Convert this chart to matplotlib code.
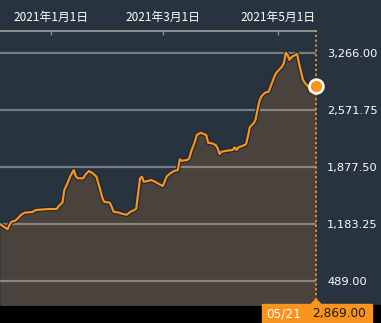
#!/usr/bin/env python3

import numpy as np
import matplotlib
matplotlib.use("Agg")
import matplotlib.pyplot as plt
import matplotlib.patheffects as pe
from matplotlib.patches import Rectangle, Polygon

# days counted from 2021-01-01, price values
days = [-27, -25, -23, -22, -21, -19, -17, -16, -14, -10, -8, -1, 3, 4, 6, 7, 9, 10,
        12, 13, 14, 17, 18, 20, 22, 24, 26, 27, 28, 31, 32, 33, 36, 38, 40, 42, 44, 45,
        47, 48, 49, 51, 53, 55, 57, 59, 60, 61, 63, 65, 67, 68, 69, 72, 73, 74, 76, 77,
        79, 81, 82, 83, 85, 87, 88, 89, 90, 93, 96, 97, 98, 99, 101, 103, 104, 105, 107,
        108, 110, 111, 113, 115, 116, 118, 119, 122, 123, 124, 125, 126, 127, 129, 130,
        131, 133, 134, 136, 137, 139, 140]
prices = [1183, 1150, 1119, 1171, 1211, 1223, 1265, 1293, 1321, 1329, 1354, 1366, 1366,
          1402, 1443, 1597, 1698, 1759, 1841, 1768, 1740, 1740, 1780, 1829, 1801, 1759,
          1597, 1508, 1455, 1443, 1394, 1333, 1321, 1305, 1297, 1333, 1354, 1370, 1740,
          1759, 1698, 1707, 1719, 1698, 1670, 1646, 1698, 1759, 1801, 1829, 1841, 1971,
          1954, 1963, 1983, 2064, 2186, 2267, 2295, 2276, 2267, 2173, 2166, 2145, 2105,
          2036, 2064, 2076, 2085, 2117, 2085, 2117, 2133, 2154, 2247, 2361, 2410, 2450,
          2673, 2734, 2782, 2795, 2856, 2977, 3026, 3099, 3141, 3270, 3242, 3181, 3214,
          3242, 3254, 3141, 2946, 2904, 2856, 2795, 2815, 2869]

ytick_vals = [489.00, 1183.25, 1877.50, 2571.75, 3266.00]
xtick_dates = ["2021-01-01", "2021-03-01", "2021-05-01"]
xtick_labels = ["2021年1月1日", "2021年3月1日", "2021年5月1日"]
last_label = "05/21"
last_value = "2,869.00"

BG = "#283340"
FILL = "#4a423c"
ORANGE = "#f7941d"

W, H = 381, 323

def to_dt(d):
    return np.datetime64(d).astype("datetime64[ms]").astype(object)

def main():
    dates = np.datetime64("2021-01-01") + np.array(days).astype("timedelta64[D]")
    dates = dates.astype("datetime64[ms]").astype(object)

    fig = plt.figure(figsize=(W / 100, H / 100), dpi=100, facecolor=BG)
    ax = fig.add_axes([0, 18 / H, 316 / W, (305 - 31) / H], facecolor=BG)

    ax.fill_between(dates, prices, 0, color=FILL, lw=0, zorder=1)
    for v in ytick_vals:
        ax.axhline(v, color="#c8c8c8", alpha=0.5, lw=1.6, zorder=2)
    ax.plot(dates, prices, color=ORANGE, lw=1.6, zorder=3,
            path_effects=[pe.Stroke(linewidth=3.2, foreground="#1c2530"), pe.Normal()])
    ax.plot(dates[-1], prices[-1], "o", ms=10, mfc=ORANGE, mec="white", mew=1.8,
            zorder=5, clip_on=False)
    ax.axvline(dates[-1], color=ORANGE, lw=1.3, ls=(0, (1.2, 1.5)), zorder=4,
               clip_on=False)

    ax.set_xlim(to_dt("2020-12-05"), dates[-1])
    ax.set_ylim(197, 3534)

    # top date axis
    ax.xaxis.tick_top()
    ax.set_xticks([to_dt(d) for d in xtick_dates])
    ax.set_xticklabels(xtick_labels, family=["Noto Sans CJK JP", "DejaVu Sans"],
                       fontsize=8.5, color="white")
    ax.tick_params(axis="x", direction="in", length=3, width=1, color="#8c8c8c", pad=5)

    # right price axis
    ax.yaxis.tick_right()
    ax.set_yticks(ytick_vals)
    ax.set_yticklabels([f"{v:,.2f}" for v in ytick_vals], fontsize=8.2, color="white")
    ax.tick_params(axis="y", length=0, pad=8)

    for s in ["left", "right", "bottom"]:
        ax.spines[s].set_visible(False)
    ax.spines["top"].set_color("#8c8c8c")
    ax.spines["top"].set_linewidth(1.5)

    # bottom strip with current value box
    fig.add_artist(Rectangle((0, 0), 1, 18 / H, transform=fig.transFigure,
                             color="black", zorder=0))
    fig.add_artist(Rectangle((262 / W, 0), 110 / W, 19 / H, transform=fig.transFigure,
                             color=ORANGE, zorder=6))
    fig.add_artist(Polygon([(311 / W, 18.5 / H), (321 / W, 18.5 / H), (316 / W, 24 / H)],
                           transform=fig.transFigure, color=ORANGE, zorder=6))
    fig.text(266 / W, 9 / H, last_label, color="white", fontsize=8.7, va="center",
             zorder=7)
    fig.text(366 / W, 9 / H, last_value, color="#1a1a1a", fontsize=8.7, va="center",
             ha="right", zorder=7)

    fig.savefig("out.png", dpi=100, facecolor=BG)

if __name__ == "__main__":
    main()
